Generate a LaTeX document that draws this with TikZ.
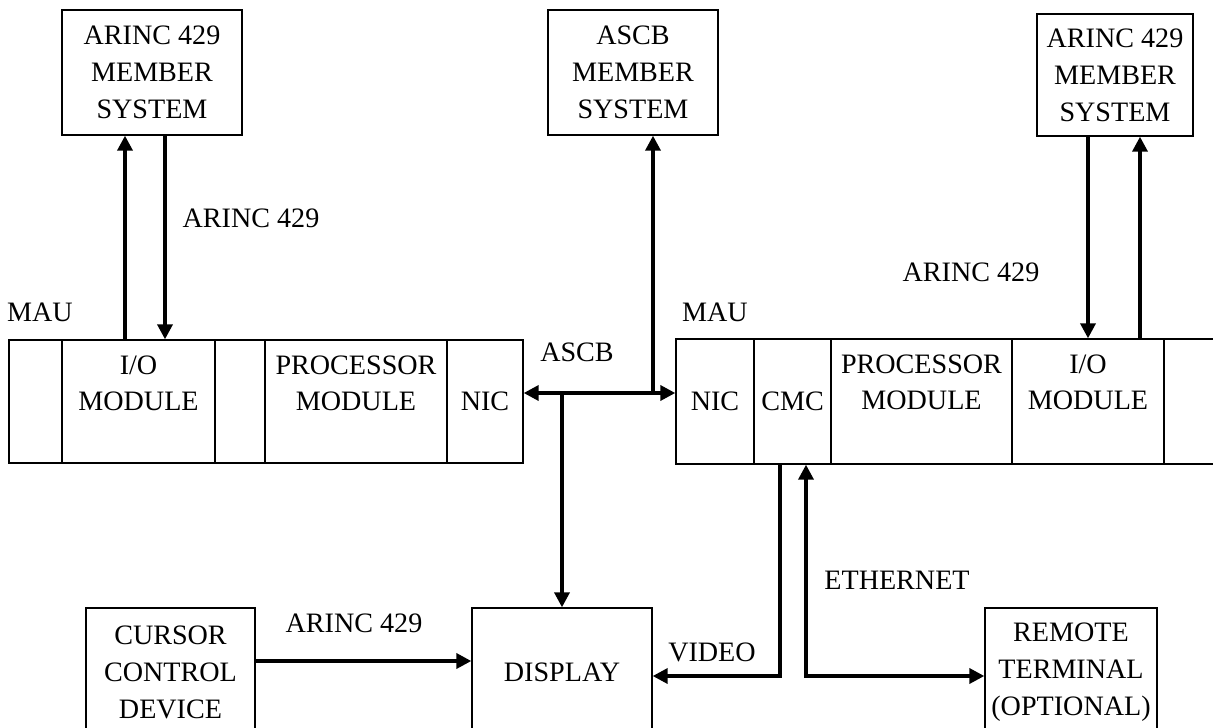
\documentclass[tikz,border=0pt]{standalone}
\usepackage{fontspec}
\setmainfont{Liberation Serif}
\usetikzlibrary{calc,arrows.meta,positioning}

\tikzset{
  box/.style={draw, line width=0.8pt, inner sep=0pt, align=center},
  lbl/.style={inner sep=0pt, align=center},
  link/.style={line width=2pt, -{Triangle[length=0.3cm,width=0.3cm]}},
  linkboth/.style={line width=2pt,
    {Triangle[length=0.3cm,width=0.3cm]}-{Triangle[length=0.3cm,width=0.3cm]}}
}

\begin{document}
\begin{tikzpicture}[x=0.02cm, y=-0.02cm, font=\fontsize{16}{21}\selectfont]

    \useasboundingbox (0,0) rectangle (1213,727);
    \clip (0,0) rectangle (1213,727);

    % member systems
    \node[box, minimum width=3.6cm, minimum height=2.5cm] (tl) at (152,72.5)
        {ARINC 429\\MEMBER\\SYSTEM};
    \node[box, minimum width=3.4cm, minimum height=2.5cm] (tc) at (633,72.5)
        {ASCB\\MEMBER\\SYSTEM};
    \node[box, minimum width=3.12cm, minimum height=2.44cm] (tr) at (1115,75)
        {ARINC 429\\MEMBER\\SYSTEM};

    % left MAU
    \node[box, minimum width=1.06cm, minimum height=2.46cm] (la) at (35.5,401.5) {};
    \node[box, minimum width=3.06cm, minimum height=2.46cm] (lio) at (138.5,401.5) {};
    \node[box, minimum width=1.0cm, minimum height=2.46cm] (lb) at (240,401.5) {};
    \node[box, minimum width=3.64cm, minimum height=2.46cm] (lproc) at (356,401.5) {};
    \node[box, minimum width=1.52cm, minimum height=2.46cm] (lnic) at (485,401.5) {NIC};
    \node[lbl] at ($(lio.north)+(0,44)$) {I/O\\MODULE};
    \node[lbl] at ($(lproc.north)+(0,44)$) {PROCESSOR\\MODULE};
    \node[lbl] (mau1) at (40,312) {MAU};

    % right MAU
    \node[box, minimum width=1.56cm, minimum height=2.5cm] (rnic) at (715,401.5) {NIC};
    \node[box, minimum width=1.54cm, minimum height=2.5cm] (rcmc) at (792.5,401.5) {CMC};
    \node[box, minimum width=3.62cm, minimum height=2.5cm] (rproc) at (921.5,401.5) {};
    \node[box, minimum width=3.04cm, minimum height=2.5cm] (rio) at (1088,401.5) {};
    \node[box, minimum width=1.52cm, minimum height=2.5cm] (rc) at (1202,401.5) {};
    \node[lbl] at ($(rproc.north)+(0,44)$) {PROCESSOR\\MODULE};
    \node[lbl] at ($(rio.north)+(0,44)$) {I/O\\MODULE};
    \node[lbl] (mau2) at (715,312) {MAU};

    % bottom row
    \node[box, minimum width=3.38cm, minimum height=2.58cm] (ccd) at (170.5,672.5)
        {CURSOR\\CONTROL\\DEVICE};
    \node[box, minimum width=3.6cm, minimum height=2.58cm] (disp) at (562,672.5)
        {DISPLAY};
    \node[box, minimum width=3.44cm, minimum height=2.58cm] (rt) at (1071,672.5)
        {REMOTE\\TERMINAL\\(OPTIONAL)};

    % bus labels
    \node[lbl] at (251,218) {ARINC 429};
    \node[lbl] at (971,272) {ARINC 429};
    \node[lbl] at (354,623) {ARINC 429};
    \node[lbl] at (577,352) {ASCB};
    \node[lbl] at (712,652) {VIDEO};
    \node[lbl] at (897,580) {ETHERNET};

    \coordinate (a1) at (125,0);
    \coordinate (a2) at (165,0);
    \coordinate (a3) at (1088,0);
    \coordinate (a4) at (1140,0);
    \coordinate (asc) at (653,0);
    \coordinate (dsp) at (562,0);
    \coordinate (v1) at (780,0);
    \coordinate (e1) at (806,0);
    \coordinate (bus) at (0,393);
    \coordinate (vid) at (0,676);
    \coordinate (ccdY) at (0,661);

    \draw[link] (a1 |- lio.north) -- (a1 |- tl.south);
    \draw[link] (a2 |- tl.south) -- (a2 |- lio.north);
    \draw[link] (a3 |- tr.south) -- (a3 |- rio.north);
    \draw[link] (a4 |- rio.north) -- (a4 |- tr.south);

    \draw[linkboth] (bus -| lnic.east) -- (bus -| rnic.west);
    \draw[link] (asc |- bus) -- (asc |- tc.south);
    \draw[link] (dsp |- bus) -- (disp.north);

    \draw[link] (ccdY -| ccd.east) -- (ccdY -| disp.west);
    \draw[link] (v1 |- rcmc.south) |- (vid -| disp.east);
    \draw[linkboth] (e1 |- rcmc.south) |- (vid -| rt.west);

\end{tikzpicture}
\end{document}
